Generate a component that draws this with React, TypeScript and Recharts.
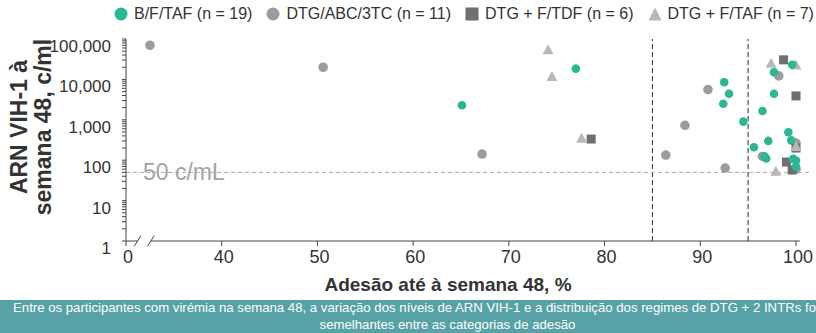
import React from "react";
import { ScatterChart, Scatter, XAxis, YAxis, ReferenceLine } from "recharts";

const FONT = '"Liberation Sans", Arial, Helvetica, sans-serif';

const seriesNames = [
  "B/F/TAF (n = 19)",
  "DTG/ABC/3TC (n = 11)",
  "DTG + F/TDF (n = 6)",
  "DTG + F/TAF (n = 7)",
];
const seriesColors = ["#2bb794", "#9c9c9f", "#6f6f6f", "#b8b8b8"];

// adherence to week 48 (%) and HIV-1 RNA at week 48 (c/mL), one pair per participant
const bftafAdherence = [65.1, 77.0, 92.5, 93.0, 92.4, 94.5, 99.6, 97.7, 97.7, 96.5, 99.2, 97.1, 99.5, 95.6, 96.7, 96.9, 99.7, 100, 100];
const bftafRna = [2300, 18500, 8500, 4400, 2500, 900, 23000, 15000, 4400, 1650, 490, 300, 310, 210, 125, 110, 108, 98, 70];

const abcAdherence = [10, 50.6, 67.2, 86.4, 88.4, 90.8, 92.6, 98.2, 96.5, 100, 100];
const abcRna = [70000, 20000, 142, 134, 730, 5600, 64, 12200, 124, 266, 60];

const tdfAdherence = [78.6, 98.7, 100, 100, 99.0, 99.6];
const tdfRna = [334, 30500, 3900, 200, 90, 57];

const ftafAdherence = [74.1, 74.5, 77.6, 97.4, 100, 100, 97.9];
const ftafRna = [52700, 11500, 340, 24300, 22000, 211, 52];

const xTicks = [0, 40, 50, 60, 70, 80, 90, 100];
const yMajorTicks = [1, 10, 100, 1000, 10000, 100000];
const adherenceCutoffs = [85, 95];
const rnaThreshold = 50;

// axis break: 0-40 % is squeezed into the first 10 units of the axis
const toAxis = (v: number) => (v < 40 ? 30 + v / 4 : v);
const fromAxis = (v: number) => (v < 40 ? (v - 30) * 4 : v);

const yTicks = yMajorTicks.flatMap((d) =>
  d === 100000 ? [d] : [1, 2, 3, 4, 5, 6, 7, 8, 9].map((m) => m * d)
);

const build = (xs: number[], ys: number[]) => xs.map((x, i) => ({ x: toAxis(x), y: ys[i] }));

const circle = (r: number, fill: string) => (p: any) => (
  <circle cx={p.cx} cy={p.cy} r={r} fill={fill} />
);
const square = (fill: string) => (p: any) => (
  <rect x={p.cx - 4.5} y={p.cy - 4.5} width={9} height={9} fill={fill} />
);
const triangle = (fill: string) => (p: any) => (
  <polygon
    points={`${p.cx},${p.cy - 6} ${p.cx - 5.5},${p.cy + 4} ${p.cx + 5.5},${p.cy + 4}`}
    fill={fill}
  />
);

const YTick = (props: any) => {
  const { x, y, payload } = props;
  if (!yMajorTicks.includes(payload.value)) return <g />;
  return (
    <text x={x} y={y} dy={13} textAnchor="end" fontSize={17} fill="#333" fontFamily={FONT}>
      {payload.value.toLocaleString("en-US")}
    </text>
  );
};

const XTick = (props: any) => {
  const { x, y, payload } = props;
  return (
    <text x={x + 2} y={y} dy={15} textAnchor="middle" fontSize={18} fill="#333" fontFamily={FONT}>
      {Math.round(fromAxis(payload.value))}
    </text>
  );
};

const ThresholdLabel = (props: any) => {
  const vb = props.viewBox || {};
  return (
    <text x={(vb.x ?? 126) + 17} y={vb.y} dy={8} fontSize={23} fill="#a3a3a3" fontFamily={FONT}>
      50 c/mL
    </text>
  );
};

const LegendMarker = ({ i }: { i: number }) => (
  <svg width={14} height={14} style={{ display: "block" }}>
    {i < 2 && <circle cx={7} cy={7} r={6.5} fill={seriesColors[i]} />}
    {i === 2 && <rect x={0.5} y={0.5} width={13} height={13} fill={seriesColors[i]} />}
    {i === 3 && <polygon points="7,0.5 0.5,13.5 13.5,13.5" fill={seriesColors[i]} />}
  </svg>
);

export default function App() {
  const axisColor = "#444";
  return (
    <div
      style={{
        position: "absolute",
        left: 0,
        top: 0,
        width: 816,
        height: 333,
        overflow: "hidden",
        background: "#fff",
        fontFamily: FONT,
      }}
    >
      <div
        style={{
          position: "absolute",
          top: 5,
          left: 114,
          display: "flex",
          alignItems: "center",
          gap: 14,
          fontSize: 16,
          color: "#333",
          whiteSpace: "nowrap",
        }}
      >
        {seriesNames.map((n, i) => (
          <div key={n} style={{ display: "flex", alignItems: "center", gap: 6 }}>
            <LegendMarker i={i} />
            <span>{n}</span>
          </div>
        ))}
      </div>

      <div
        style={{
          position: "absolute",
          left: 31 - 120,
          top: 127 - 24,
          width: 240,
          height: 48,
          transform: "rotate(-90deg)",
          textAlign: "center",
          fontWeight: "bold",
          fontSize: 23,
          lineHeight: "24px",
          color: "#333",
        }}
      >
        ARN VIH-1 à
        <br />
        semana 48, c/ml
      </div>

      <div style={{ position: "absolute", left: 0, top: 0 }}>
        <ScatterChart width={816} height={300} margin={{ top: 39, right: 20, bottom: 29, left: 0 }}>
          <XAxis
            type="number"
            dataKey="x"
            domain={[30, 100]}
            ticks={xTicks.map(toAxis)}
            interval={0}
            height={30}
            axisLine={false}
            tickLine={{ stroke: axisColor }}
            tickSize={5}
            tick={<XTick />}
          />
          <YAxis
            type="number"
            dataKey="y"
            scale="log"
            domain={[1, 100000]}
            ticks={yTicks}
            interval={0}
            width={126}
            allowDataOverflow
            axisLine={{ stroke: axisColor }}
            tickLine={{ stroke: axisColor }}
            tickSize={4}
            tickMargin={11}
            tick={<YTick />}
          />
          {adherenceCutoffs.map((c) => (
            <ReferenceLine key={c} x={c} stroke="#4a4a4a" strokeDasharray="5 3" strokeWidth={1.2} />
          ))}
          <ReferenceLine
            segment={[
              { x: 30, y: rnaThreshold },
              { x: 101.5, y: rnaThreshold },
            ]}
            stroke="#ababab"
            strokeDasharray="4 3"
            ifOverflow="visible"
            label={<ThresholdLabel />}
          />
          <ReferenceLine segment={[{ x: 30, y: 1 }, { x: 31.25, y: 1 }]} stroke={axisColor} ifOverflow="visible" />
          <ReferenceLine segment={[{ x: 32.6, y: 1 }, { x: 100.4, y: 1 }]} stroke={axisColor} ifOverflow="visible" />
          <ReferenceLine segment={[{ x: 30.86, y: 0.74 }, { x: 31.56, y: 1.36 }]} stroke={axisColor} ifOverflow="visible" />
          <ReferenceLine segment={[{ x: 32.25, y: 0.74 }, { x: 32.95, y: 1.36 }]} stroke={axisColor} ifOverflow="visible" />

          <Scatter name={seriesNames[1]} data={build(abcAdherence, abcRna)} shape={circle(4.8, seriesColors[1])} isAnimationActive={false} />
          <Scatter name={seriesNames[2]} data={build(tdfAdherence, tdfRna)} shape={square(seriesColors[2])} isAnimationActive={false} />
          <Scatter name={seriesNames[3]} data={build(ftafAdherence, ftafRna)} shape={triangle(seriesColors[3])} isAnimationActive={false} />
          <Scatter name={seriesNames[0]} data={build(bftafAdherence, bftafRna)} shape={circle(4.3, seriesColors[0])} isAnimationActive={false} />
        </ScatterChart>
      </div>

      <div
        style={{
          position: "absolute",
          left: 448 - 85 - 60,
          top: 274,
          width: 290,
          textAlign: "center",
          fontWeight: "bold",
          fontSize: 19,
          color: "#333",
          whiteSpace: "nowrap",
        }}
      >
        Adesão até à semana 48, %
      </div>

      <div
        style={{
          position: "absolute",
          left: 0,
          top: 300,
          width: 816,
          height: 33,
          background: "#57a2a6",
          overflow: "hidden",
          color: "#fff",
          fontSize: 13.2,
          lineHeight: "16.5px",
          whiteSpace: "nowrap",
        }}
      >
        <div style={{ paddingLeft: 13 }}>
          Entre os participantes com virémia na semana 48, a variação dos níveis de ARN VIH-1 e a
          distribuição dos regimes de DTG + 2 INTRs foram
        </div>
        <div style={{ width: 895, textAlign: "center" }}>semelhantes entre as categorias de adesão</div>
      </div>
    </div>
  );
}
